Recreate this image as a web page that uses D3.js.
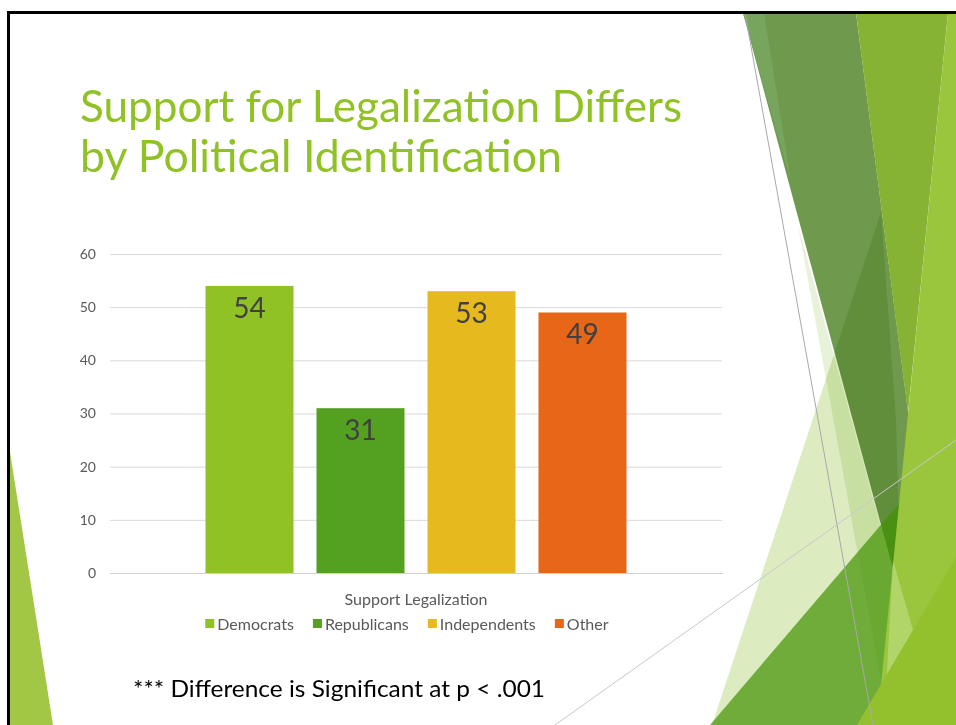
<!DOCTYPE html>
<html>
<head>
<meta charset="utf-8">
<script src="https://cdn.jsdelivr.net/npm/d3@7"></script>
<style>
  html, body { margin: 0; padding: 0; background: #fff; }
  svg { display: block; }
  text { font-family: Lato, "Open Sans", "DejaVu Sans", sans-serif; }
</style>
</head>
<body>
<svg id="slide" width="956" height="725"></svg>
<script>
// Survey result: share supporting legalization, by political identification
const categories = ["Support Legalization"];
const seriesNames = ["Democrats", "Republicans", "Independents", "Other"];
const seriesValues = [54, 31, 53, 49];
const yTicks = [0, 10, 20, 30, 40, 50, 60];

const palette = ["#90C226", "#54A021", "#E6B91E", "#E76618"];

const svg = d3.select("#slide");
const W = 956, H = 725;

svg.append("rect").attr("width", W).attr("height", H).attr("fill", "#fff");

// ---- Facet-style decorative facets on the right edge ----
const deco = svg.append("g").attr("class", "facets");
const poly = (pts, fill, extra = {}) => {
  const p = deco.append("polygon")
    .attr("points", pts.map(d => d.join(",")).join(" "))
    .attr("fill", fill);
  Object.entries(extra).forEach(([k, v]) => p.style(k, v));
  return p;
};
// pale sliver
poly([[798, 225], [889, 725], [935, 725]], "#E8F2D8");
// dark green band
poly([[743, 13], [856, 13], [949, 725], [935, 725]], "#6F9A4E");
// lighter left strip of the band
poly([[743, 13], [764, 13], [791, 182]], "#78A55E");
// yellow-green wedge between band and right facet
poly([[856, 13], [948, 13], [908, 413]], "#86B333");
// large pale triangle (multiplied over what lies below)
poly([[881, 212], [712, 725], [905, 725], [896, 420]], "#DCEBC0", {"mix-blend-mode": "multiply"});
// medium green triangle at the bottom
poly([[710, 725], [956, 437], [956, 725]], "#419201", {"opacity": 0.7});
// light green right facet
poly([[948, 13], [956, 13], [956, 725], [877, 725]], "#99C63D");
// light streak over the right facet
poly([[893, 560], [884, 725], [940, 725]], "#D8EBB0", {"opacity": 0.4});
// bright yellow-green bottom right corner
poly([[857, 725], [956, 557], [956, 725]], "#93C12E");
// thin hairlines
deco.append("line").attr("x1", 745).attr("y1", 13).attr("x2", 873).attr("y2", 725)
  .attr("stroke", "#A9A9A9").attr("stroke-width", 1);
deco.append("line").attr("x1", 555).attr("y1", 725).attr("x2", 956).attr("y2", 440)
  .attr("stroke", "#C8C8C8").attr("stroke-width", 1);
// left bottom facet
poly([[10, 452], [53, 725], [10, 725]], "#A2C746");

// slide frame
svg.append("line").attr("x1", 7).attr("y1", 12.5).attr("x2", W).attr("y2", 12.5)
  .attr("stroke", "#000").attr("stroke-width", 3);
svg.append("line").attr("x1", 8.5).attr("y1", 11).attr("x2", 8.5).attr("y2", H)
  .attr("stroke", "#000").attr("stroke-width", 3);

// ---- Title ----
const title = svg.append("g").attr("fill", "#90C226").style("font-size", "44px");
title.append("text").attr("x", 80).attr("y", 122)
  .attr("textLength", 602).attr("lengthAdjust", "spacingAndGlyphs")
  .text("Support for Legalization Differs");
title.append("text").attr("x", 80).attr("y", 172)
  .attr("textLength", 482).attr("lengthAdjust", "spacingAndGlyphs")
  .text("by Political Identification");

// ---- Chart ----
const plot = { left: 110, right: 722, top: 254, bottom: 573 };

const y = d3.scaleLinear().domain([0, 60]).range([plot.bottom, plot.top]);
const x0 = d3.scaleBand().domain(categories).range([plot.left, plot.right])
  .paddingInner(0).paddingOuter(0.2268);
const x1 = d3.scaleBand().domain(seriesNames).range([0, x0.bandwidth()])
  .paddingInner(0.207).paddingOuter(0);

// gridlines + y labels via axis
const yAxis = d3.axisLeft(y).tickValues(yTicks).tickSize(-(plot.right - plot.left)).tickPadding(14);
const gy = svg.append("g").attr("transform", `translate(${plot.left},0)`).call(yAxis);
gy.select(".domain").remove();
gy.selectAll(".tick line").attr("stroke", "#D9D9D9").attr("stroke-width", 1);
gy.selectAll(".tick text").attr("fill", "#595959").style("font-size", "14px")
  .style("font-family", "Lato, 'Open Sans', sans-serif");

// bars
const rows = seriesNames.map((s, i) => ({ series: s, value: seriesValues[i], color: palette[i] }));
const grp = svg.append("g").attr("transform", `translate(${x0(categories[0])},0)`);
grp.selectAll("rect").data(rows).join("rect")
  .attr("x", d => x1(d.series))
  .attr("y", d => y(d.value))
  .attr("width", x1.bandwidth())
  .attr("height", d => y(0) - y(d.value))
  .attr("fill", d => d.color);
grp.selectAll("text.val").data(rows).join("text")
  .attr("class", "val")
  .attr("x", d => x1(d.series) + x1.bandwidth() / 2)
  .attr("y", d => y(d.value) + 32)
  .attr("text-anchor", "middle")
  .attr("fill", "#404040")
  .style("font-size", "28px")
  .text(d => d.value);

// baseline
svg.append("line").attr("x1", plot.left).attr("x2", plot.right + 1)
  .attr("y1", y(0) + 0.5).attr("y2", y(0) + 0.5)
  .attr("stroke", "#D0D0D0").attr("stroke-width", 1);

// category axis label
const xAxis = d3.axisBottom(x0).tickSize(0).tickPadding(21);
const gx = svg.append("g").attr("transform", `translate(0,${plot.bottom})`).call(xAxis);
gx.select(".domain").remove();
gx.selectAll(".tick text").attr("fill", "#595959").style("font-size", "16px")
  .style("font-family", "Lato, 'Open Sans', sans-serif");

// legend, laid out left to right and centred slightly left of the category
const legend = svg.append("g").attr("class", "legend");
const items = legend.selectAll("g").data(rows).join("g");
items.append("rect").attr("width", 9).attr("height", 9).attr("y", -5).attr("fill", d => d.color);
items.append("text").attr("x", 12).attr("y", 0).attr("dy", "0.35em")
  .attr("fill", "#595959").style("font-size", "16px").text(d => d.series);
const widths = [];
items.each(function () { widths.push(this.getBBox().width); });
const gap = 19;
const total = d3.sum(widths) + gap * (widths.length - 1);
let cursor = (x0(categories[0]) + x0.bandwidth() / 2 - 9) - total / 2;
items.attr("transform", (d, i) => {
  const t = `translate(${cursor},624)`;
  cursor += widths[i] + gap;
  return t;
});

// significance footnote
svg.append("text").attr("x", 133).attr("y", 697)
  .attr("fill", "#000").style("font-size", "23px")
  .attr("textLength", 412).attr("lengthAdjust", "spacingAndGlyphs")
  .text("*** Difference is Significant at p < .001");
</script>
</body>
</html>
